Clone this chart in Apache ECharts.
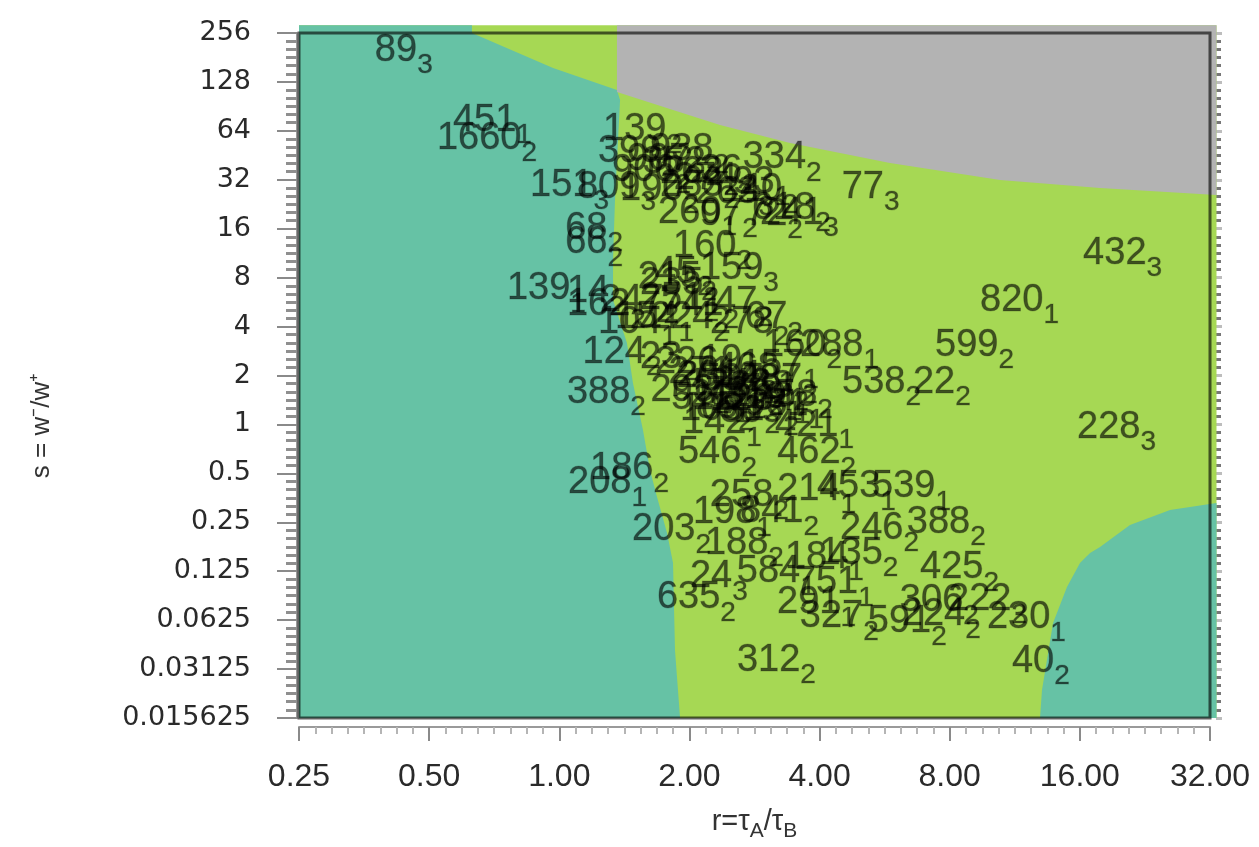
<!DOCTYPE html>
<html>
<head>
<meta charset="utf-8">
<script src="https://cdn.jsdelivr.net/npm/echarts@6/dist/echarts.min.js"></script>
<style>
html,body{margin:0;padding:0;background:#fff;}
#c{width:1259px;height:847px;}
</style>
</head>
<body>
<div id="c"></div>
<script>
// ---- axes (log2 exponents) ----
const xTickExp = [-2, -1, 0, 1, 2, 3, 4, 5];          // r = 0.25 ... 32
const yTickExp = [-6, -5, -4, -3, -2, -1, 0, 1, 2, 3, 4, 5, 6, 7, 8]; // s = 0.015625 ... 256

// ---- background regions, boundary vertices as [log2 r, log2 s] ----
const regionGreen = [[-2, -6], [5.05, -6], [5.05, 8.16], [-2, 8.16]];
const regionTealLeft = [[-2, 8.16], [-0.671, 8.16], [-0.671, 8], [-0.048, 7.285], [0.443, 6.835], [0.467, 6.631],
  [0.428, 4.587], [0.413, 3.361], [0.413, 2.543], [0.520, 1.664], [0.566, 0.847], [0.643, -0.114],
  [0.697, -0.931], [0.751, -1.483], [0.828, -2.219], [0.874, -2.832], [0.889, -4.610], [0.928, -6], [-2, -6]];
const regionGrey = [[0.443, 8.16], [5.05, 8.16], [5.05, 4.689], [4.155, 4.832], [3.387, 4.996], [2.541, 5.343],
  [1.773, 5.752], [1.235, 6.120], [0.874, 6.426], [0.443, 6.794]];
const regionTealRight = [[3.694, -6], [3.709, -5.427], [3.794, -4.058], [3.901, -3.322], [4.001, -2.832],
  [4.078, -2.628], [4.155, -2.505], [4.385, -2.055], [4.693, -1.749], [5.05, -1.606], [5.05, -6]];

// ---- point labels: id, cluster subscript, log2 r, log2 s ----
const labelIds  = ['89','451','1660','139','399','938','334','77','151','809','190','283','263','40',
  '260','97','72','241','68','66','160','432','820','599','538','22','228','139','14','162','215','159',
  '45','247','251','47','104','224','278','124','23','388','186','208','203','635','24','258','214','453',
  '539','198','841','188','246','388','135','425','306','222','224','591','230','40','312','327','291',
  '584','184','751','462','546','142','421','160','288','271','597','211','348','1264','87','931','365',
  '58','1081','226','157','19','235','741','154','67','906','262','36',
  '293','512','1248','733','319','85','2014','468','907','352','274','93','618'];
const labelSubs = ['3','1','2','2','1','2','2','3','3','3','2','2','3','2',
  '1','2','2','3','2','2','2','3','1','2','2','2','3','1','2','2','2','3',
  '2','2','2','2','1','2','2','2','2','2','2','1','2','2','3','2','1','1',
  '1','1','2','2','2','2','2','2','2','2','2','2','1','2','2','2','1',
  '1','1','1','2','2','1','1','2','1','2','1','2','2','1','2','1','2',
  '2','2','2','1','2','2','2','1','2','2','2','2',
  '2','1','2','2','1','2','2','1','2','2','2','1','2'];
const labelLog2R = [-1.417,-0.817,-0.940,0.336,0.297,0.697,1.409,2.170,-0.225,0.136,0.467,0.774,1.043,1.388,
  0.759,1.081,1.427,1.542,0.045,0.045,0.874,4.025,3.233,2.887,2.173,2.717,3.978,-0.402,0.059,0.059,0.603,1.081,
  0.735,0.313,0.620,1.197,0.297,0.697,1.159,0.179,0.620,0.059,0.236,0.067,0.559,0.750,1.004,1.157,1.674,1.980,
  2.403,1.027,1.389,1.119,2.157,2.670,1.999,2.772,2.617,2.987,2.632,2.371,3.286,3.478,1.365,1.848,1.673,
  1.364,1.734,1.810,1.674,0.912,0.950,1.658,1.566,1.850,0.840,1.081,1.004,1.311,1.158,1.542,1.427,1.234,
  1.658,0.927,0.735,1.388,1.081,0.620,0.774,0.428,1.427,0.405,0.774,1.081,
  0.700,0.860,0.980,1.120,1.260,1.050,0.900,1.200,0.520,0.640,0.880,1.330,1.480];
const labelLog2S = [7.652,6.221,5.853,6.018,5.568,5.609,5.445,4.852,4.873,4.852,4.791,4.893,4.750,4.791,
  4.341,4.300,4.280,4.320,4.014,3.708,3.646,3.500,2.541,1.622,0.866,0.866,-0.053,2.768,2.707,2.441,3.012,3.196,
  3.114,2.542,2.583,2.483,2.093,2.175,2.093,1.479,1.377,0.662,-0.907,-1.193,-2.154,-3.544,-3.115,-1.459,-1.337,-1.279,
  -1.279,-1.809,-1.790,-2.427,-2.120,-1.998,-2.634,-2.933,-3.607,-3.587,-3.894,-4.037,-3.955,-4.836,-4.815,-3.935,-3.649,
  -3.016,-2.710,-3.241,-0.584,-0.584,0.029,-0.012,1.623,1.623,1.071,0.908,0.601,0.765,0.499,0.908,0.397,0.254,
  0.601,0.295,1.275,1.214,1.316,2.889,2.441,2.175,2.175,5.199,5.158,5.199,
  0.700,0.520,0.820,0.650,0.560,0.350,0.980,1.150,5.420,5.350,5.020,4.950,4.420];

const fmtY = v => String(Math.pow(2, v));
const fmtX = v => Math.pow(2, v).toFixed(2);

function polySeries(points, color) {
  return {
    type: 'custom', silent: true, clip: false, z: 1,
    data: [0],
    renderItem: (params, api) => ({
      type: 'polygon',
      shape: { points: points.map(p => api.coord(p)) },
      style: { fill: color, stroke: null }
    })
  };
}

const labelData = labelIds.map((id, i) => [labelLog2R[i], labelLog2S[i], id, labelSubs[i]]);
const ink = 'rgba(0,0,0,0.78)';

const chart = echarts.init(document.getElementById('c'), null, { renderer: 'canvas' });
chart.setOption({
  animation: false,
  backgroundColor: '#ffffff',
  grid: { left: 299, right: 49, top: 33, bottom: 129, containLabel: false, outerBoundsMode: 'none' },
  xAxis: [{
    type: 'value', min: xTickExp[0], max: xTickExp[xTickExp.length - 1], interval: 1,
    offset: 9,
    axisLine: { show: true, onZero: false, lineStyle: { color: '#9a9a9a', width: 2 } },
    axisTick: { show: true, length: 14, lineStyle: { color: '#8a8a8a', width: 2 } },
    minorTick: { show: true, splitNumber: 8, length: 7, lineStyle: { color: '#b5b5b5', width: 2 } },
    splitLine: { show: false },
    axisLabel: { formatter: fmtX, fontFamily: 'Liberation Sans', fontSize: 32, color: '#2a2a2a', margin: 34 },
    name: '{n|r=τ}{s|A}{n|/τ}{s|B}',
    nameLocation: 'middle', nameGap: 80,
    nameTextStyle: {
      rich: {
        n: { fontFamily: 'Liberation Sans', fontSize: 29, color: '#333', lineHeight: 29, verticalAlign: 'top' },
        s: { fontFamily: 'Liberation Sans', fontSize: 21, color: '#333', lineHeight: 21, padding: [14, 0, 0, 0], verticalAlign: 'top' }
      }
    }
  }, {
    type: 'value', position: 'top', min: xTickExp[0], max: xTickExp[xTickExp.length - 1], interval: 1,
    axisLine: { show: false, onZero: false },
    axisTick: { show: true, length: 8, lineStyle: { color: 'rgba(255,255,255,0.85)', width: 3 } },
    minorTick: { show: true, splitNumber: 8, length: 6, lineStyle: { color: 'rgba(255,255,255,0.75)', width: 3 } },
    splitLine: { show: false }, axisLabel: { show: false }
  }],
  yAxis: [{
    type: 'value', min: yTickExp[0], max: yTickExp[yTickExp.length - 1], interval: 1,
    offset: 2,
    axisLine: { show: true, onZero: false, lineStyle: { color: '#9a9a9a', width: 2 } },
    axisTick: { show: true, length: 20, lineStyle: { color: '#8a8a8a', width: 2 } },
    minorTick: { show: true, splitNumber: 6, length: 11, lineStyle: { color: '#8f8f8f', width: 3 } },
    splitLine: { show: false },
    axisLabel: { formatter: fmtY, fontFamily: 'DejaVu Sans', fontSize: 27, color: '#2a2a2a', margin: 46 },
    name: 's = w⁻/w⁺',
    nameLocation: 'middle', nameGap: 242, nameRotate: 90,
    nameTextStyle: { fontFamily: 'Liberation Sans', fontSize: 26, color: '#333', padding: [0, 100, 0, 0] }
  }, {
    type: 'value', position: 'right', min: yTickExp[0], max: yTickExp[yTickExp.length - 1], interval: 1,
    offset: 6,
    axisLine: { show: false, onZero: false },
    axisTick: { show: true, length: 6, lineStyle: { color: '#bdbdbd', width: 3 } },
    minorTick: { show: true, splitNumber: 6, length: 5, lineStyle: { color: '#777', width: 3 } },
    splitLine: { show: false }, axisLabel: { show: false }
  }],
  series: [
    polySeries(regionGreen, '#a6d854'),
    polySeries(regionTealLeft, '#66c2a5'),
    polySeries(regionGrey, '#b3b3b3'),
    polySeries(regionTealRight, '#66c2a5'),
    {
      type: 'custom', silent: true, clip: false, z: 3,
      data: [0],
      renderItem: (params, api) => {
        const a = api.coord([xTickExp[0], yTickExp[yTickExp.length - 1]]);
        const b = api.coord([xTickExp[xTickExp.length - 1], yTickExp[0]]);
        return {
          type: 'rect',
          shape: { x: a[0], y: a[1], width: b[0] - a[0], height: b[1] - a[1] },
          style: { fill: null, stroke: 'rgba(0,0,0,0.62)', lineWidth: 3 }
        };
      }
    },
    {
      type: 'scatter', silent: true, z: 5,
      symbolSize: 0,
      data: labelData,
      label: {
        show: true, position: 'inside', align: 'left', verticalAlign: 'middle', offset: [0, 5],
        formatter: p => '{m|' + p.data[2] + '}{s|' + p.data[3] + '}',
        rich: {
          m: { fontFamily: 'Liberation Sans', fontSize: 38, lineHeight: 38, color: ink, verticalAlign: 'top',
               textBorderColor: 'rgba(0,0,0,0.25)', textBorderWidth: 1 },
          s: { fontFamily: 'Liberation Sans', fontSize: 28, lineHeight: 28, color: ink, padding: [20, 0, 0, 0], verticalAlign: 'top',
               textBorderColor: 'rgba(0,0,0,0.25)', textBorderWidth: 1 }
        }
      },
      labelLayout: { hideOverlap: false }
    }
  ]
});
</script>
</body>
</html>
